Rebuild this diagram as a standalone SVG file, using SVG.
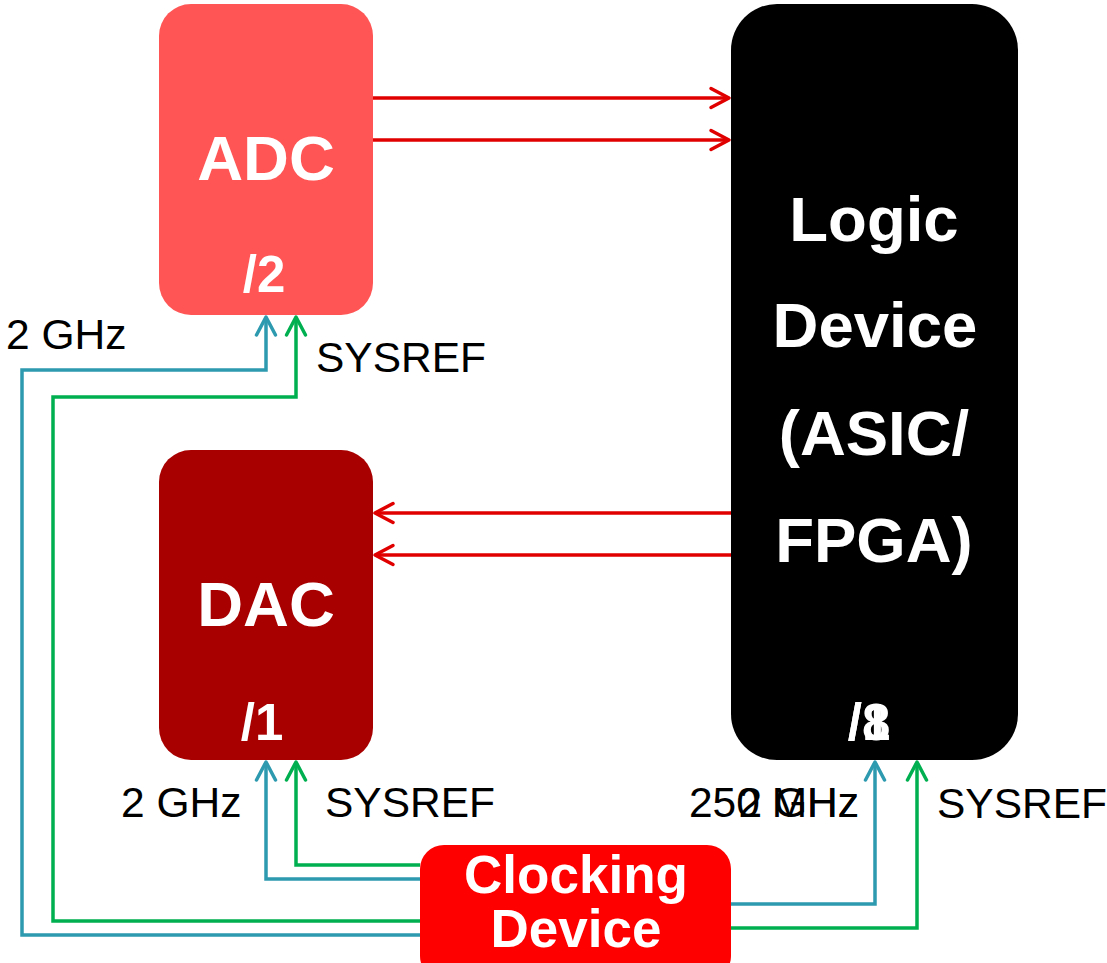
<svg xmlns="http://www.w3.org/2000/svg" width="1107" height="963" viewBox="0 0 1107 963">
<style>
.t{font-family:"Liberation Sans",Arial,sans-serif;font-weight:bold;fill:#fff;text-anchor:middle}
.big{font-size:63.5px}
.div{font-size:51px}
.lbl{font-family:"Liberation Sans",Arial,sans-serif;font-size:42.5px;fill:#000}
.red{fill:none;stroke:#E00000;stroke-width:3.5}
.blue{fill:none;stroke:#2E9AB0;stroke-width:3.5}
.green{fill:none;stroke:#00B050;stroke-width:3.5}
</style>
<defs>
<marker id="mr" viewBox="-22 -13 25 26" refX="0" refY="0" markerWidth="25" markerHeight="26" markerUnits="userSpaceOnUse" orient="auto"><path d="M-18,-9.5 L0,0 L-18,9.5" fill="none" stroke="#E00000" stroke-width="3.5" stroke-linecap="round" stroke-linejoin="round"/></marker>
<marker id="mb" viewBox="-22 -13 25 26" refX="0" refY="0" markerWidth="25" markerHeight="26" markerUnits="userSpaceOnUse" orient="auto"><path d="M-18,-9.5 L0,0 L-18,9.5" fill="none" stroke="#2E9AB0" stroke-width="3.5" stroke-linecap="round" stroke-linejoin="round"/></marker>
<marker id="mg" viewBox="-22 -13 25 26" refX="0" refY="0" markerWidth="25" markerHeight="26" markerUnits="userSpaceOnUse" orient="auto"><path d="M-18,-9.5 L0,0 L-18,9.5" fill="none" stroke="#00B050" stroke-width="3.5" stroke-linecap="round" stroke-linejoin="round"/></marker>
</defs>
<rect width="1107" height="963" fill="#fff"/>
<g id="connectors">
<path class="red" d="M373,98 H729" marker-end="url(#mr)"/>
<path class="red" d="M373,140 H729" marker-end="url(#mr)"/>
<path class="red" d="M731,513 H375" marker-end="url(#mr)"/>
<path class="red" d="M731,555 H375" marker-end="url(#mr)"/>
<path class="blue" d="M420,935 H22 V370 H266 V317" marker-end="url(#mb)"/>
<path class="green" d="M420,921 H53 V397 H296 V317" marker-end="url(#mg)"/>
<path class="blue" d="M420,879 H266 V762" marker-end="url(#mb)"/>
<path class="green" d="M420,865 H296 V762" marker-end="url(#mg)"/>
<path class="blue" d="M731,904 H875 V762" marker-end="url(#mb)"/>
<path class="green" d="M731,928 H917 V762" marker-end="url(#mg)"/>
</g>
<g id="adc">
<rect x="159" y="4" width="214" height="311" rx="32" fill="#FF5555"/>
<text class="t big" x="266" y="180">ADC</text>
<text class="t div" x="264" y="292">/2</text>
</g>
<g id="dac">
<rect x="159" y="450" width="214" height="310" rx="32" fill="#A80000"/>
<text class="t big" x="266" y="626">DAC</text>
<text class="t div" x="262" y="740">/1</text>
</g>
<g id="logic">
<rect x="731" y="4" width="287" height="756" rx="46" fill="#000"/>
<text class="t big" x="874" y="241">Logic</text>
<text class="t big" x="875" y="347">Device</text>
<text class="t big" x="874" y="455">(ASIC/</text>
<text class="t big" x="874" y="562">FPGA)</text>
<text class="t div" x="869" y="740">/8</text>
<text class="t div" x="869" y="740">/1</text>
</g>
<g id="clocking">
<rect x="420" y="845" width="311" height="135" rx="24" fill="#FF0000"/>
<text class="t" style="font-size:53px" x="576" y="893">Clocking</text>
<text class="t" style="font-size:53px" x="576" y="947">Device</text>
</g>
<g id="labels">
<text class="lbl" x="6" y="349">2 GHz</text>
<text class="lbl" x="316" y="372">SYSREF</text>
<text class="lbl" x="121" y="817">2 GHz</text>
<text class="lbl" x="325" y="817">SYSREF</text>
<text class="lbl" x="859" y="817" text-anchor="end">250 MHz</text>
<text class="lbl" x="859" y="817" text-anchor="end">2 GHz</text>
<text class="lbl" x="937" y="818">SYSREF</text>
</g>
</svg>
